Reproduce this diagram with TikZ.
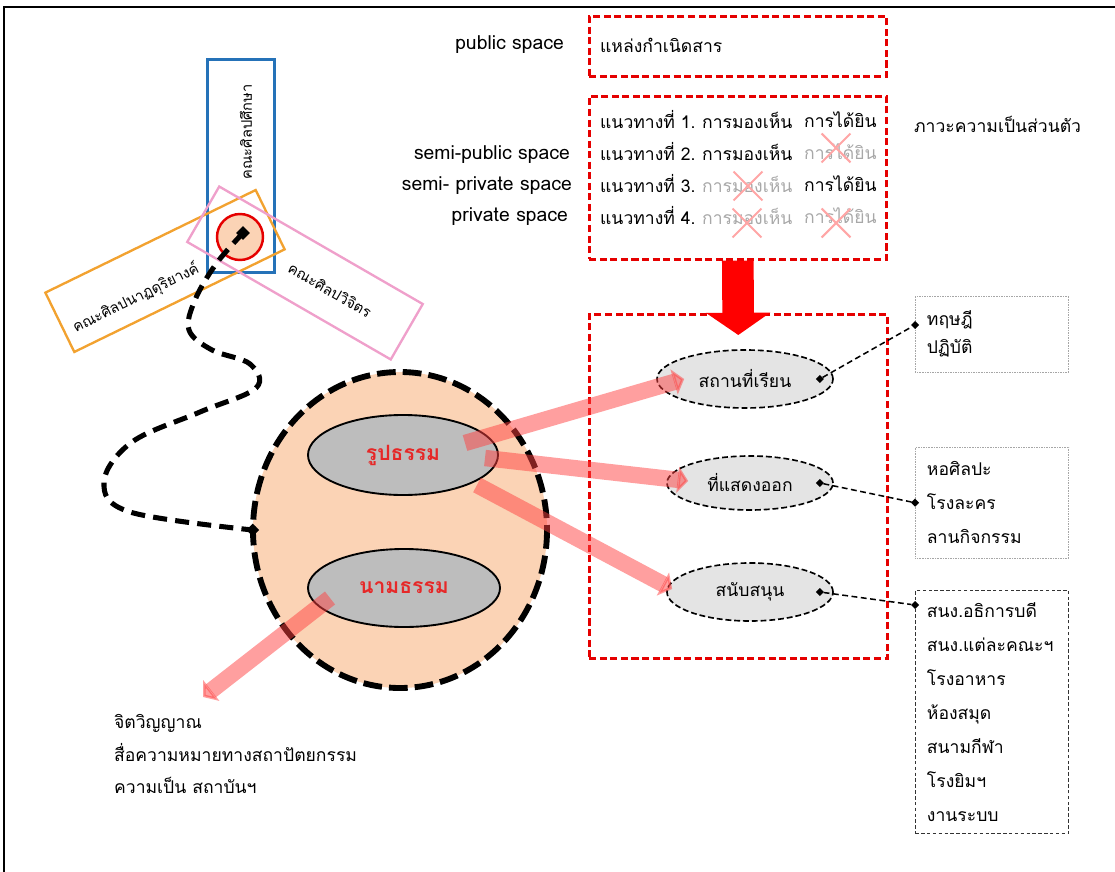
\documentclass[tikz,border=0pt]{standalone}
\usepackage{fontspec}
\setmainfont[Script=Thai]{Loma}
\usetikzlibrary{shapes.geometric, shapes.misc, arrows.meta, positioning, calc}
\definecolor{peach}{HTML}{FBD3B5}
\definecolor{ovalgrey}{HTML}{BDBDBD}
\definecolor{placegrey}{HTML}{E4E4E4}
\definecolor{facblue}{HTML}{2572B8}
\definecolor{facorange}{HTML}{F2A230}
\definecolor{facpink}{HTML}{EFA0CB}
\definecolor{dharmared}{HTML}{E62828}
\definecolor{fadedtext}{HTML}{A8A8A8}
\tikzset{
  redbox/.style={
    rectangle, anchor=north west,
    draw=red!90!black, line width=2.2pt, dash pattern=on 6pt off 3pt
  },
  spacelabel/.style={
    anchor=east, font=\fontsize{16.5}{18}\selectfont
  },
  faculty/.style={
    rectangle, line width=2pt, inner sep=0pt
  },
  facname/.style={
    inner sep=0pt, font=\fontsize{12.5}{14}\selectfont
  },
  dharma/.style={
    ellipse, draw=black, line width=1.6pt, fill=ovalgrey,
    text=dharmared, font=\fontsize{18}{20}\selectfont\bfseries
  },
  place/.style={
    ellipse, draw=black, line width=1.4pt, dash pattern=on 5pt off 2.5pt,
    fill=placegrey
  },
  listbox/.style={
    rectangle, anchor=north west, align=left,
    inner xsep=10pt, text width=3.9cm
  },
  xmark/.style={
    cross out, draw=red!35, line width=1.8pt,
    minimum width=0.8cm, minimum height=0.8cm, inner sep=0pt
  },
  dot/.style={diamond, fill=black, inner sep=0pt, minimum size=7pt},
  link/.style={line width=1.3pt, dash pattern=on 5pt off 3pt, draw=black},
  flow/.style={
    line width=14pt, draw=red!75, opacity=0.5,
    -{Triangle[length=9pt, width=22pt]}
  },
  trail/.style={line width=4.3pt, dash pattern=on 12pt off 7pt, draw=black},
}
\begin{document}
\begin{tikzpicture}[x=0.03cm, y=-0.03cm, font=\fontsize{15}{17}\selectfont]
\useasboundingbox (0,0) rectangle (1115,872);

% --- frame ---
\draw[line width=1.3pt] (4,872) -- (4,7) -- (1115,7);

% --- source and the four routes ---
\node[redbox, minimum width=8.91cm, minimum height=1.8cm] (source) at (588,15) {};
\node[anchor=west] (sourcetxt) at (596,45) {แหล่งกำเนิดสาร};
\node[spacelabel] (public) at (568,45) {public space};

\node[redbox, minimum width=8.91cm, minimum height=4.89cm] (routes) at (588,95) {};
\node[anchor=west] (way1) at (596,120) {แนวทางที่ 1.};
\node[anchor=west] (way2) at (596,152) {แนวทางที่ 2.};
\node[anchor=west] (way3) at (596,184) {แนวทางที่ 3.};
\node[anchor=west] (way4) at (596,216) {แนวทางที่ 4.};
\node[anchor=west] (see1) at (698,120) {การมองเห็น};
\node[anchor=west] (see2) at (698,152) {การมองเห็น};
\node[anchor=west, text=fadedtext] (see3) at (698,184) {การมองเห็น};
\node[anchor=west, text=fadedtext] (see4) at (698,216) {การมองเห็น};
\node[anchor=west] (hear1) at (800,120) {การได้ยิน};
\node[anchor=west, text=fadedtext] (hear2) at (800,152) {การได้ยิน};
\node[anchor=west] (hear3) at (800,184) {การได้ยิน};
\node[anchor=west, text=fadedtext] (hear4) at (800,216) {การได้ยิน};

\node[xmark] (nohear2) at (836,148) {};
\node[xmark] (nosee3) at (748,186) {};
\node[xmark] (nosee4) at (747,223) {};
\node[xmark] (nohear4) at (836,223) {};

\node[spacelabel] (semipublic) at (574,155) {semi-public space};
\node[spacelabel] (semiprivate) at (576,186) {semi- private space};
\node[spacelabel] (private) at (572,217) {private space};
\node[anchor=west] (privacy) at (910,124) {ภาวะความเป็นส่วนตัว};

% --- places ---
\node[redbox, minimum width=8.94cm, minimum height=10.32cm] (places) at (588,313) {};
\draw[-{Triangle[length=19pt, width=54pt]}, line width=27pt, red]
  (routes.south) -- ($(places.north)+(0,22)$);

\node[place, minimum width=5.28cm, minimum height=1.74cm] (study) at (745,379) {สถานที่เรียน};
\node[place, minimum width=4.98cm, minimum height=1.62cm] (express) at (750,483) {ที่แสดงออก};
\node[place, minimum width=4.98cm, minimum height=1.74cm] (support) at (750,592) {สนับสนุน};

% --- lists ---
\node[listbox, draw=gray!70, densely dotted, minimum height=2.28cm,
  font=\fontsize{15}{24}\selectfont] (theory) at (915,296) {ทฤษฎี\\ปฏิบัติ};
\node[listbox, draw=gray!70, densely dotted, minimum height=3.33cm,
  font=\fontsize{15}{29}\selectfont] (gallery) at (915,447) {หอศิลปะ\\โรงละคร\\ลานกิจกรรม};
\node[listbox, draw=black!80, densely dashed, minimum height=7.29cm,
  font=\fontsize{15}{29}\selectfont] (office) at (915,590)
  {สนง.อธิการบดี\\สนง.แต่ละคณะฯ\\โรงอาหาร\\ห้องสมุด\\สนามกีฬา\\โรงยิมฯ\\งานระบบ};

\node[dot] (studydot) at ($(study.east)+(-14,0)$) {};
\node[dot] (expressdot) at ($(express.east)+(-14,0)$) {};
\node[dot] (supportdot) at ($(support.east)+(-14,0)$) {};
\node[dot] (theorydot) at ($(theory.north west)+(0,29)$) {};
\node[dot] (gallerydot) at (gallery.west) {};
\node[dot] (officedot) at ($(office.north west)+(0,15)$) {};
\draw[link] (studydot) -- (theorydot);
\draw[link] (expressdot) -- (gallerydot);
\draw[link] (supportdot) -- (officedot);

% --- faculties ---
\node[faculty, draw=facblue, minimum width=2.01cm, minimum height=6.39cm] (artedu) at (241,166) {};
\node[faculty, draw=facorange, rotate=26, minimum width=7.02cm, minimum height=1.98cm] (perform) at (165,271) {};
\node[faculty, draw=facpink, rotate=-30, minimum width=7.05cm, minimum height=1.92cm] (fineart) at (305,273) {};
\node[facname, rotate=90] (arteduname) at (246,132) {คณะศิลปศึกษา};
\node[facname, rotate=26] (performname) at (136,298) {คณะศิลปนาฏดุริยางค์};
\node[facname, rotate=-30] (fineartname) at (330,290) {คณะศิลปวิจิตร};

\node[circle, draw=red!90!black, fill=peach, line width=2.1pt, minimum size=1.38cm] (hub) at (240,237) {};
\node[diamond, fill=black, inner sep=0pt, minimum size=12pt] (hubdot) at (243,233) {};

% --- dharma ball ---
\node[ellipse, fill=peach, minimum width=8.82cm, minimum height=9.48cm] (ball) at (400,530) {};
\draw[line width=5pt, dash pattern=on 16pt off 6pt] (ball.center) ellipse [x radius=147, y radius=158];
\node[dharma, minimum width=5.7cm, minimum height=2.4cm] (rupa) at (403,455) {รูปธรรม};
\node[dharma, minimum width=5.76cm, minimum height=2.34cm] (nama) at (404,588) {นามธรรม};
\node[diamond, fill=black, inner sep=0pt, minimum size=11pt] (joint) at (ball.west) {};

\draw[trail] plot[smooth, tension=0.6] coordinates {(hubdot.center) (216,264) (195,300) (189,330)
  (212,350) (250,364) (256,388) (200,412) (132,442) (104,482) (130,512) (joint.center)};

% --- flows ---
\coordinate (rupaA) at ($(rupa.center)+(62,-12)$);
\coordinate (rupaB) at ($(rupa.center)+(82,3)$);
\coordinate (rupaC) at ($(rupa.center)+(74,30)$);
\draw[flow] (rupaA) -- ($(study.west)+(28,0)$);
\draw[flow] (rupaB) -- ($(express.west)+(22,-2)$);
\draw[flow] (rupaC) -- ($(support.west)+(6,-3)$);
\coordinate (namaA) at ($(nama.center)+(-74,10)$);
\node[anchor=north west, align=left, font=\fontsize{15}{28}\selectfont] (spirit) at (110,710)
  {จิตวิญญาณ\\สื่อความหมายทางสถาปัตยกรรม\\ความเป็น สถาบันฯ};
\draw[flow] (namaA) -- (203,697);

\end{tikzpicture}
\end{document}
